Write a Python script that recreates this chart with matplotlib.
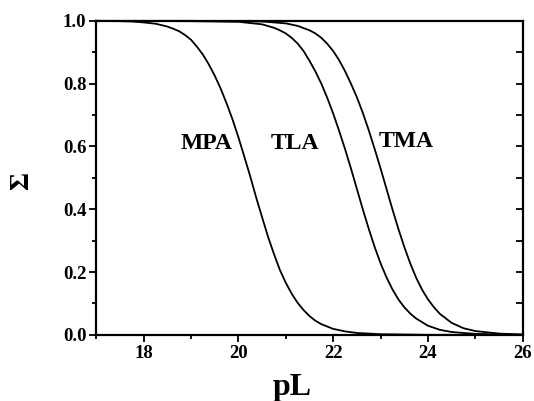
import matplotlib
matplotlib.use("Agg")
import matplotlib.pyplot as plt
from matplotlib.ticker import MultipleLocator

# values
mpa_x = [17.0, 17.5, 17.75, 18.0, 18.25, 18.5, 18.625, 18.75, 18.875, 19.0, 19.125, 19.25,
         19.375, 19.5, 19.625, 19.75, 19.875, 20.0, 20.125, 20.25, 20.375, 20.5, 20.625,
         20.75, 20.875, 21.0, 21.125, 21.25, 21.375, 21.5, 21.625, 21.75, 22.0, 22.25,
         22.5, 23.0, 24.0, 26.0]
mpa_y = [1.000, 0.999, 0.998, 0.995, 0.991, 0.982, 0.975, 0.967, 0.955, 0.940, 0.918, 0.893,
         0.862, 0.826, 0.785, 0.738, 0.687, 0.630, 0.568, 0.505, 0.438, 0.375, 0.313,
         0.258, 0.207, 0.166, 0.131, 0.102, 0.079, 0.060, 0.045, 0.034, 0.019, 0.011,
         0.006, 0.002, 0.000, 0.000]

tla_x = [17.0, 19.0, 20.0, 20.5, 20.75, 20.875, 21.0, 21.125, 21.25, 21.375, 21.5, 21.625,
         21.75, 21.875, 22.0, 22.125, 22.25, 22.375, 22.5, 22.625, 22.75, 22.875, 23.0,
         23.125, 23.25, 23.375, 23.5, 23.625, 23.75, 24.0, 24.25, 24.5, 25.0, 26.0]
tla_y = [1.000, 0.999, 0.997, 0.989, 0.978, 0.970, 0.960, 0.946, 0.928, 0.904, 0.873, 0.839,
         0.800, 0.755, 0.705, 0.650, 0.592, 0.530, 0.465, 0.400, 0.338, 0.280, 0.228,
         0.183, 0.145, 0.113, 0.088, 0.068, 0.052, 0.029, 0.016, 0.009, 0.003, 0.000]

tma_x = [17.0, 19.0, 20.5, 21.0, 21.25, 21.5, 21.625, 21.75, 21.875, 22.0, 22.125, 22.25,
         22.375, 22.5, 22.625, 22.75, 22.875, 23.0, 23.125, 23.25, 23.375, 23.5, 23.625,
         23.75, 23.875, 24.0, 24.125, 24.25, 24.5, 24.75, 25.0, 25.5, 26.0]
tma_y = [1.000, 1.000, 0.998, 0.992, 0.984, 0.970, 0.960, 0.946, 0.927, 0.904, 0.875, 0.840,
         0.800, 0.757, 0.707, 0.652, 0.592, 0.530, 0.465, 0.400, 0.338, 0.280, 0.228,
         0.182, 0.144, 0.113, 0.088, 0.067, 0.038, 0.021, 0.012, 0.004, 0.001]

labels = ["MPA", "TLA", "TMA"]
label_x = [19.32, 21.2, 23.54]
label_y = [0.61, 0.61, 0.617]

plt.rcParams['font.family'] = ['Liberation Serif', 'DejaVu Serif']
plt.rcParams['font.weight'] = 'bold'

fig = plt.figure(figsize=(5.34, 4.01), dpi=100)
ax = fig.add_axes([0.180, 0.165, 0.799, 0.783])

for xs, ys in [(mpa_x, mpa_y), (tla_x, tla_y), (tma_x, tma_y)]:
    ax.plot(xs, ys, color='black', linewidth=1.3, clip_on=False)

for name, lx, ly in zip(labels, label_x, label_y):
    ax.text(lx, ly, name, fontsize=17, fontweight='bold', ha='center', va='center')

ax.set_xlim(17, 26)
ax.set_ylim(0, 1.0)
ax.xaxis.set_major_locator(MultipleLocator(2))
ax.xaxis.set_minor_locator(MultipleLocator(1))
ax.yaxis.set_major_locator(MultipleLocator(0.2))
ax.yaxis.set_minor_locator(MultipleLocator(0.1))
ax.yaxis.set_major_formatter(plt.FormatStrFormatter('%.1f'))

ax.tick_params(which='major', direction='out', length=5, width=1.3, labelsize=13.5, pad=2)
ax.tick_params(which='minor', direction='out', length=3, width=1.3)
ax.tick_params(which='both', top=False, right=False)

for s in ax.spines.values():
    s.set_linewidth(1.6)

# right side ticks point inward
ax_r = ax.twinx()
ax_r.set_ylim(0, 1.0)
ax_r.yaxis.set_major_locator(MultipleLocator(0.1))
ax_r.tick_params(axis='y', direction='in', length=5, width=1.3, labelright=False)
for s in ax_r.spines.values():
    s.set_visible(False)

ax.set_xlabel('pL', fontsize=23, fontweight='bold')
ax.xaxis.set_label_coords(0.46, -0.12, transform=ax.transAxes)
ax.set_ylabel('\u03a3', fontsize=20, fontweight='bold')
ax.yaxis.set_label_coords(-0.145, 0.49, transform=ax.transAxes)

fig.savefig('out.png', dpi=100)
